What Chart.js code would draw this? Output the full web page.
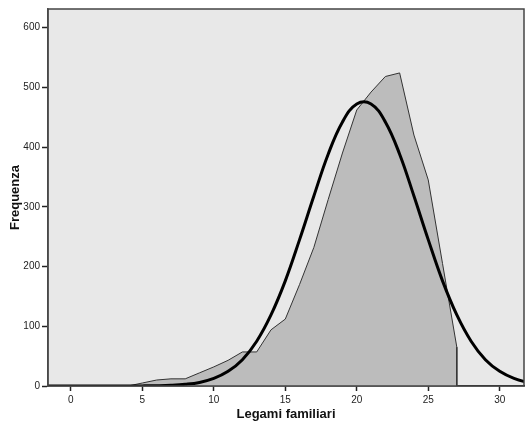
<!DOCTYPE html>
<html>
<head>
<meta charset="utf-8">
<script src="https://cdn.jsdelivr.net/npm/chart.js@4.4.1/dist/chart.umd.min.js"></script>
<style>
    html, body { margin: 0; padding: 0; background: #fff; }
    #wrap { width: 527px; height: 425px; }
</style>
</head>
<body>
<div id="wrap"><canvas id="histChart"></canvas></div>
<script>
// frequency polygon (Legami familiari)
const polyX = [0, 1, 2, 3, 4, 5, 6, 7, 8, 9, 10, 11, 12, 13, 14, 15, 16, 17, 18, 19, 20, 21, 22, 23, 24, 25, 26, 27, 27];
const polyY = [0, 0, 0, 0, 0, 5, 10, 12, 12, 22, 32, 43, 57, 57, 94, 112, 170, 232, 312, 390, 462, 492, 518, 524, 420, 345, 205, 65, 0];

// normal curve
const curveX = [-2, -1, 0, 1, 2, 3, 4, 5, 6, 7, 8, 9, 10, 11, 12, 13, 14, 15, 16, 17, 18, 19, 20, 21, 22, 23, 24, 25, 26, 27, 28, 29, 30, 31, 32, 33];
const curveY = [0, 0, 0, 0, 0, 0, 0.1, 0.2, 0.5, 1.2, 2.8, 6, 12.7, 24.5, 44, 75, 119, 176, 245, 318, 388, 442, 472, 472, 442, 388, 318, 245, 176, 119, 75, 44, 24.5, 12.7, 6, 2.7];

const xTicks = [0, 5, 10, 15, 20, 25, 30];
const yTicks = [0, 100, 200, 300, 400, 500, 600];

const plotBg = {
    id: 'plotBg',
    beforeDraw(chart) {
        const { ctx, chartArea: a } = chart;
        ctx.save();
        ctx.fillStyle = '#e8e8e8';
        ctx.fillRect(a.left, a.top, a.right - a.left, a.bottom - a.top);
        ctx.restore();
    },
    afterDatasetsDraw(chart) {
        const { ctx, chartArea: a } = chart;
        ctx.save();
        ctx.strokeStyle = '#444';
        ctx.lineWidth = 1.5;
        ctx.strokeRect(a.left, a.top, a.right - a.left, a.bottom - a.top);
        ctx.restore();
    }
};

const toPts = (xs, ys) => xs.map((x, i) => ({ x, y: ys[i] }));

new Chart(document.getElementById('histChart'), {
    type: 'line',
    data: {
        datasets: [
            {
                label: 'Normale',
                data: toPts(curveX, curveY),
                borderColor: '#000',
                borderWidth: 3,
                tension: 0.4,
                pointRadius: 0,
                fill: false
            },
            {
                label: 'Frequenza',
                data: toPts(polyX, polyY),
                borderColor: '#333',
                borderWidth: 1,
                backgroundColor: '#bcbcbc',
                tension: 0,
                pointRadius: 0,
                fill: 'origin'
            }
        ]
    },
    options: {
        responsive: true,
        maintainAspectRatio: false,
        animation: false,
        layout: { padding: { top: 9, right: 3, left: 0, bottom: 0 } },
        plugins: { legend: { display: false }, tooltip: { enabled: false } },
        scales: {
            x: {
                type: 'linear',
                min: -1.6,
                max: 31.7,
                afterBuildTicks: s => { s.ticks = xTicks.map(v => ({ value: v })); },
                afterFit: s => { s.height = 39; },
                grid: { display: true, drawOnChartArea: false, drawTicks: true, tickLength: 5, tickWidth: 1.5, tickColor: '#222' },
                border: { display: true, color: '#222', width: 1.5 },
                ticks: { color: '#222', font: { family: 'Liberation Sans', size: 10 }, padding: 3, maxRotation: 0 },
                title: {
                    display: true,
                    text: 'Legami familiari',
                    color: '#111',
                    font: { family: 'Liberation Sans', size: 13, weight: 'bold' },
                    padding: { top: 0, bottom: 3 }
                }
            },
            y: {
                min: 0,
                max: 631,
                afterBuildTicks: s => { s.ticks = yTicks.map(v => ({ value: v })); },
                afterFit: s => { s.width = 48; },
                grid: { display: true, drawOnChartArea: false, drawTicks: true, tickLength: 6, tickWidth: 1.5, tickColor: '#222' },
                border: { display: true, color: '#555', width: 1.5 },
                ticks: { color: '#222', font: { family: 'Liberation Sans', size: 10 }, padding: 2 },
                title: {
                    display: true,
                    text: 'Frequenza',
                    color: '#111',
                    font: { family: 'Liberation Sans', size: 13, weight: 'bold' },
                    padding: { top: 8, bottom: 0 }
                }
            }
        }
    },
    plugins: [plotBg]
});
</script>
</body>
</html>
